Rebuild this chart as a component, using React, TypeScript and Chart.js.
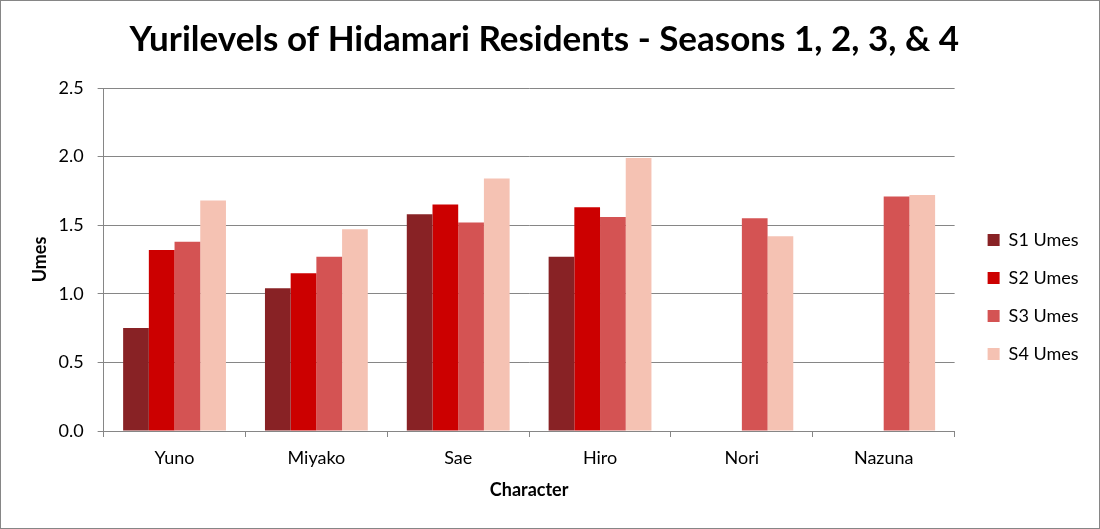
import { useEffect, useRef } from 'react'
import { Chart, registerables } from 'chart.js'

Chart.register(...registerables)

const CHARACTERS = ['Yuno', 'Miyako', 'Sae', 'Hiro', 'Nori', 'Nazuna']

const S1_UMES = [0.75, 1.04, 1.58, 1.27, null, null]
const S2_UMES = [1.32, 1.15, 1.65, 1.63, null, null]
const S3_UMES = [1.38, 1.27, 1.52, 1.56, 1.55, 1.71]
const S4_UMES = [1.68, 1.47, 1.84, 1.99, 1.42, 1.72]

const SERIES_LABELS = ['S1 Umes', 'S2 Umes', 'S3 Umes', 'S4 Umes']

const COLORS = ['#882225', '#cc0000', '#d45353', '#f5c2b3']

const FONT = 'Lato, "Open Sans", sans-serif'
const GRID = '#868686'

export default function App() {
  const ref = useRef<HTMLCanvasElement>(null)
  const chart = useRef<Chart | null>(null)

  useEffect(() => {
    if (!ref.current) return
    chart.current?.destroy()

    const values = [S1_UMES, S2_UMES, S3_UMES, S4_UMES]

    chart.current = new Chart(ref.current, {
      type: 'bar',
      data: {
        labels: CHARACTERS,
        datasets: values.map((data, i) => ({
          label: SERIES_LABELS[i],
          data,
          backgroundColor: COLORS[i],
          borderWidth: 0,
          categoryPercentage: 0.725,
          barPercentage: 1,
        })),
      },
      options: {
        responsive: true,
        maintainAspectRatio: false,
        animation: false,
        layout: { padding: { left: 0, right: 11.5, top: 0, bottom: 23.8 } },
        plugins: {
          tooltip: { enabled: false },
          title: {
            display: true,
            text: 'Yurilevels of Hidamari Residents - Seasons 1, 2, 3, & 4',
            color: '#000',
            font: { family: FONT, size: 35, weight: 'bold', lineHeight: 1.2 },
            padding: { top: 19, bottom: 27 },
          },
          legend: {
            position: 'right',
            // empty title only pushes the legend items down
            title: { display: true, text: '', font: { size: 1, lineHeight: '89px' }, padding: 0 },
            labels: {
              boxWidth: 12,
              boxHeight: 12,
              padding: 20,
              color: '#000',
              font: { family: FONT, size: 18 },
            },
          },
        },
        scales: {
          x: {
            grid: {
              offset: true,
              drawOnChartArea: false,
              drawTicks: true,
              tickLength: 6,
              color: GRID,
            },
            border: { display: true, color: GRID },
            ticks: { color: '#000', padding: 10, font: { family: FONT, size: 18 } },
            title: {
              display: true,
              text: 'Character',
              color: '#000',
              font: { family: FONT, size: 18, weight: 'bold', lineHeight: 1.2 },
              padding: { top: 1, bottom: 4 },
            },
          },
          y: {
            min: 0,
            max: 2.5,
            ticks: {
              stepSize: 0.5,
              color: '#000',
              padding: 14,
              font: { family: FONT, size: 18 },
              callback: (v) => Number(v).toFixed(1),
            },
            grid: { color: GRID, tickLength: 6 },
            border: { display: true, color: GRID },
            title: {
              display: true,
              text: 'Umes',
              color: '#000',
              font: { family: FONT, size: 18, weight: 'bold', lineHeight: '9px' },
              padding: { top: 35.5, bottom: 0 },
            },
          },
          gap: {
            type: 'linear',
            position: 'right',
            display: true,
            grid: { display: false },
            ticks: { display: false },
            border: { display: false },
            afterFit: (s) => {
              s.width = 13
            },
          },
        },
      },
    })

    return () => chart.current?.destroy()
  }, [])

  return (
    <div
      style={{
        position: 'absolute',
        left: 0,
        top: 0,
        width: 1100,
        height: 529,
        background: '#fff',
      }}
    >
      <canvas ref={ref} role="img" aria-label="Yurilevels of Hidamari Residents" />
      <div
        style={{
          position: 'absolute',
          inset: 0,
          border: `1px solid ${GRID}`,
          pointerEvents: 'none',
        }}
      />
    </div>
  )
}
